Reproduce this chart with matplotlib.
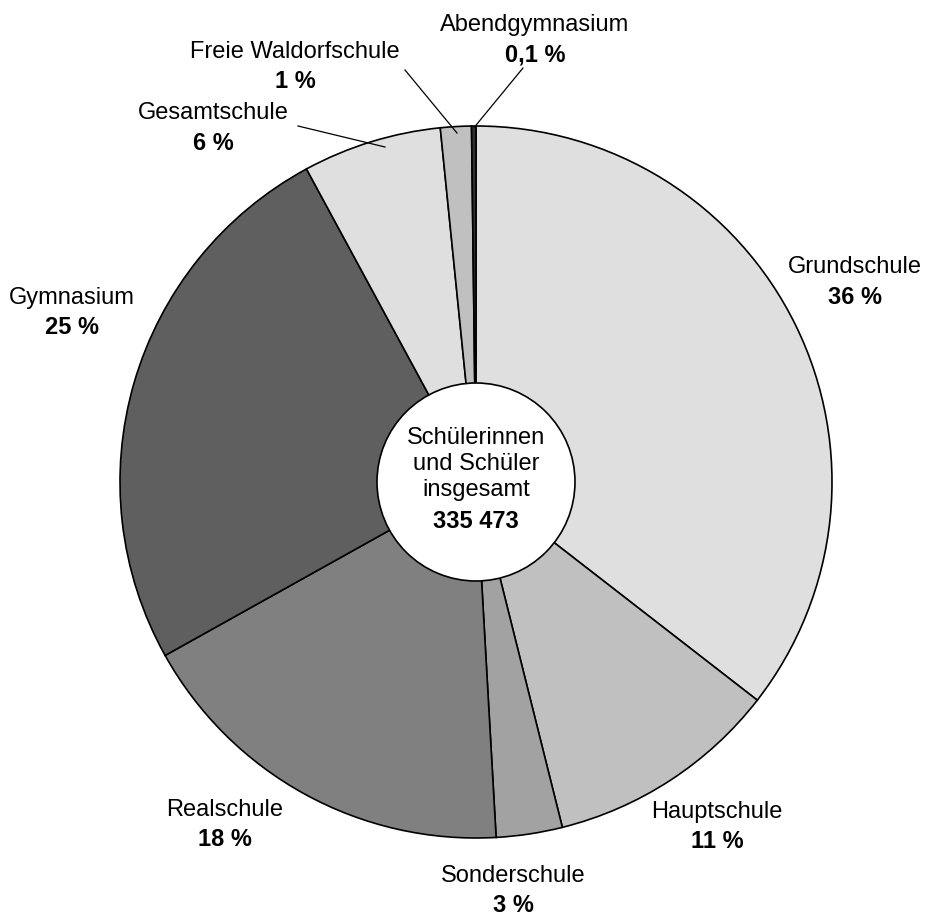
import matplotlib
matplotlib.use('Agg')
import matplotlib.pyplot as plt

plt.rcParams['font.family'] = ['Liberation Sans', 'DejaVu Sans']

# school types, clockwise from the top
schools = ['Grundschule', 'Hauptschule', 'Sonderschule', 'Realschule',
           'Gymnasium', 'Gesamtschule', 'Freie Waldorfschule', 'Abendgymnasium']
shares = [35.5, 10.6, 3.0, 17.8, 25.2, 6.3, 1.4, 0.2]
share_labels = ['36 %', '11 %', '3 %', '18 %', '25 %', '6 %', '1 %', '0,1 %']
total_label = '335 473'

colors = ['#dfdfdf', '#c0c0c0', '#a2a2a2', '#808080',
          '#5f5f5f', '#dfdfdf', '#c0c0c0', '#303030']

# label positions in pixels (x, y from top)
label_pos = [(855, 267), (717, 812), (513, 876), (225, 810),
             (72, 298), (213, 113), (295, 52), (535, 25)]
# leader lines for the small slices: text end -> slice
leaders = {5: ((298, 126), (385, 147)),
           6: ((405, 70), (457, 133)),
           7: ((523, 68), (474.5, 127))}

W, H = 943, 918
fig = plt.figure(figsize=(W / 100, H / 100), dpi=100)
ax = fig.add_axes([0, 0, 1, 1])

cx, cy, r = 476, 482, 356
# y axis is inverted, so counterclock=True draws clockwise on screen
ax.pie(shares, colors=colors, startangle=-90, counterclock=True,
       center=(cx, cy), radius=r, frame=True,
       wedgeprops=dict(edgecolor='black', linewidth=1.2))
ax.set_xlim(0, W)
ax.set_ylim(H, 0)
ax.axis('off')

hole = plt.Circle((cx, cy), 99, facecolor='white', edgecolor='black', lw=1.2, zorder=5)
ax.add_patch(hole)
ax.text(cx, cy - 18, 'Schülerinnen\nund Schüler\ninsgesamt', ha='center', va='center',
        fontsize=17, linespacing=1.25, zorder=6)
ax.text(cx, cy + 39, total_label, ha='center', va='center', fontsize=17,
        fontweight='bold', zorder=6)

for i, name in enumerate(schools):
    x, y = label_pos[i]
    ax.text(x, y, name, ha='center', va='center', fontsize=17)
    ax.text(x, y + 30, share_labels[i], ha='center', va='center', fontsize=17,
            fontweight='bold')

for i, ((x0, y0), (x1, y1)) in leaders.items():
    ax.plot([x0, x1], [y0, y1], color='black', lw=0.9, zorder=4)

fig.savefig('out.png', dpi=100)
